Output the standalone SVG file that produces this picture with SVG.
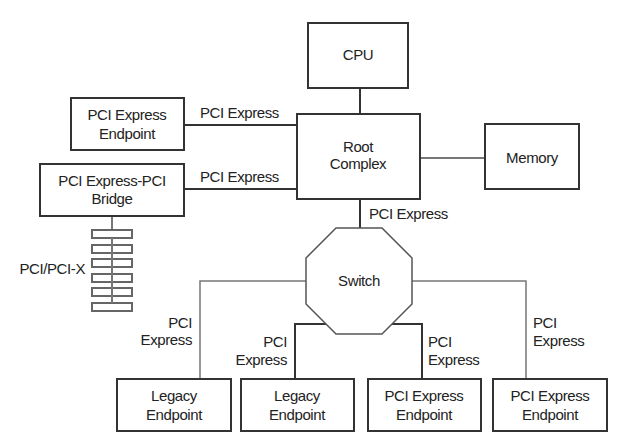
<svg xmlns="http://www.w3.org/2000/svg" width="621" height="441" viewBox="0 0 621 441">
<style>
.box{fill:#fff;stroke:#333;stroke-width:2}
.ln{fill:none;stroke:#333;stroke-width:2}
.lg{fill:none;stroke:#777;stroke-width:1.5}
.slot{fill:#fff;stroke:#666;stroke-width:2}
text{font-family:"Liberation Sans",Arial,sans-serif;font-size:15px;fill:#222;letter-spacing:-0.4px}
.c{text-anchor:middle}
.r{text-anchor:end}
</style>
<rect width="621" height="441" fill="#fff"/>
<g id="connectors">
<line class="ln" x1="360" y1="88" x2="360" y2="114"/>
<line class="lg" x1="420" y1="158" x2="485" y2="158" style="stroke-width:2"/>
<line class="ln" x1="360" y1="199" x2="360" y2="228"/>
<line class="ln" x1="184" y1="125" x2="297" y2="125"/>
<line class="ln" x1="184" y1="189" x2="297" y2="189"/>
<line class="lg" x1="112" y1="216" x2="112" y2="303" style="stroke-width:2"/>
<polyline class="lg" points="306,281 200,281 200,379"/>
<polyline class="lg" points="412,281 526,281 526,379"/>
<polyline class="ln" points="326,324 295,324 295,379"/>
<polyline class="ln" points="392,324 422,324 422,379"/>
<text x="200" y="118">PCI Express</text>
<text x="200" y="182">PCI Express</text>
<text x="369" y="219">PCI Express</text>
<text class="r" x="192" y="328">PCI</text>
<text class="r" x="192" y="345">Express</text>
<text class="r" x="287" y="347">PCI</text>
<text class="r" x="287" y="365">Express</text>
<text x="428" y="347">PCI</text>
<text x="428" y="365">Express</text>
<text x="533" y="328">PCI</text>
<text x="533" y="346">Express</text>
</g>
<g id="cpu"><rect class="box" x="308" y="23" width="100" height="65"/><text class="c" x="358" y="60">CPU</text></g>
<g id="root"><rect class="box" x="297" y="114" width="123" height="85"/><text class="c" x="358" y="152">Root</text><text class="c" x="358" y="169">Complex</text></g>
<g id="memory"><rect class="box" x="485" y="124" width="94" height="65"/><text class="c" x="532" y="163">Memory</text></g>
<g id="pcie-endpoint"><rect class="box" x="71" y="98" width="113" height="52"/><text class="c" x="127" y="120">PCI Express</text><text class="c" x="127" y="139">Endpoint</text></g>
<g id="bridge"><rect class="box" x="40" y="164" width="144" height="52"/><text class="c" x="112" y="186">PCI Express-PCI</text><text class="c" x="112" y="204">Bridge</text></g>
<g id="pci-bus">
<rect class="slot" x="92" y="230" width="40" height="8"/>
<rect class="slot" x="92" y="245" width="40" height="8"/>
<rect class="slot" x="92" y="259" width="40" height="8"/>
<rect class="slot" x="92" y="274" width="40" height="8"/>
<rect class="slot" x="92" y="288" width="40" height="8"/>
<rect class="slot" x="92" y="303" width="40" height="8"/>
<line class="lg" x1="112" y1="238" x2="112" y2="303" style="stroke-width:2"/>
<text class="r" x="85" y="274">PCI/PCI-X</text>
</g>
<g id="switch"><polygon class="box" style="stroke-width:1.5;stroke:#555" points="336,228 382,228 412,258 412,304 382,334 336,334 306,304 306,258"/><text class="c" x="359" y="286">Switch</text></g>
<g id="legacy1"><rect class="box" x="117" y="379" width="114" height="52"/><text class="c" x="174" y="401">Legacy</text><text class="c" x="174" y="420">Endpoint</text></g>
<g id="legacy2"><rect class="box" x="241" y="379" width="113" height="52"/><text class="c" x="297" y="401">Legacy</text><text class="c" x="297" y="420">Endpoint</text></g>
<g id="pcie-ep3"><rect class="box" x="368" y="379" width="113" height="52"/><text class="c" x="424" y="401">PCI Express</text><text class="c" x="424" y="420">Endpoint</text></g>
<g id="pcie-ep4"><rect class="box" x="493" y="379" width="114" height="52"/><text class="c" x="550" y="401">PCI Express</text><text class="c" x="550" y="420">Endpoint</text></g>
</svg>
